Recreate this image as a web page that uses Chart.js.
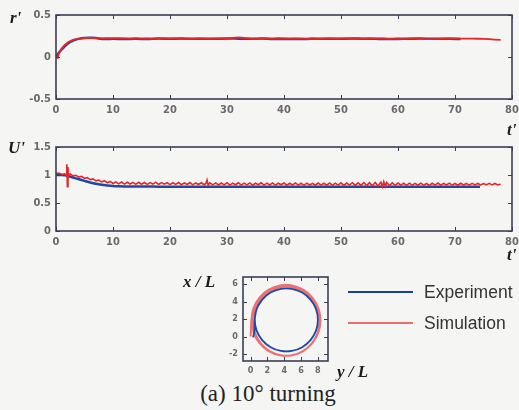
<!DOCTYPE html>
<html>
<head>
<meta charset="utf-8">
<script src="https://cdn.jsdelivr.net/npm/chart.js@4"></script>
<style>
  body { margin: 0; background: #f5f5f3; width: 519px; height: 410px; overflow: hidden; position: relative; }
  canvas { position: absolute; }
  .lab { position: absolute; font: italic bold 17px 'Liberation Serif', serif; color: #1a1a1a; line-height: 1; white-space: nowrap; }
  .leg { position: absolute; font: 17.5px 'Liberation Sans', Arial, sans-serif; color: #333; line-height: 1; }
  .swatch { position: absolute; width: 65px; height: 2px; }
  #caption { position: absolute; left: 0; width: 536px; top: 381px; text-align: center; font: 23px 'Liberation Serif', serif; color: #222; }
</style>
</head>
<body>
<canvas id="r-chart" style="left:0;top:0" width="519" height="125"></canvas>
<canvas id="u-chart" style="left:0;top:130px" width="519" height="130"></canvas>
<canvas id="path-chart" style="left:200px;top:265px" width="140" height="112"></canvas>

<div class="lab" style="left:10px;top:9px">r'</div>
<div class="lab" style="left:507px;top:121px">t'</div>
<div class="lab" style="left:8px;top:139px">U'</div>
<div class="lab" style="left:507px;top:246px">t'</div>
<div class="lab" style="left:183px;top:273px">x / L</div>
<div class="lab" style="left:337px;top:363px">y / L</div>

<div class="swatch" style="left:348px;top:291px;background:#1b3f9c"></div>
<div class="leg" style="left:424px;top:284px">Experiment</div>
<div class="swatch" style="left:348px;top:322px;background:#ee6b6b"></div>
<div class="leg" style="left:424px;top:315px">Simulation</div>
<div id="caption">(a) 10° turning</div>

<script>
// tick values
const tTicks = [0, 10, 20, 30, 40, 50, 60, 70, 80];
const rTicks = [-0.5, 0, 0.5];
const uTicks = [0, 0.5, 1, 1.5];
const yLTicks = [0, 2, 4, 6, 8];
const xLTicks = [-2, 0, 2, 4, 6];

// yaw rate r' vs t'
const rExperiment = [[0,0],[0.5,0.05],[1,0.09],[1.5,0.125],[2,0.155],[2.5,0.178],[3,0.195],[3.5,0.207],[4,0.216],
  [5,0.225],[6,0.228],[7,0.226],[8,0.215],[9,0.214],[10,0.216],[12,0.214],[14,0.217],[16,0.213],[18,0.219],
  [20,0.217],[22,0.219],[24,0.216],[26,0.218],[28,0.217],[30,0.22],[32,0.218],[34,0.216],[36,0.219],
  [38,0.214],[40,0.215],[42,0.213],[44,0.215],[46,0.218],[48,0.218],[50,0.217],[52,0.219],[54,0.218],
  [56,0.216],[58,0.214],[60,0.215],[62,0.218],[64,0.22],[66,0.217],[68,0.218],[70,0.215],[71,0.215]];
const rSimulation = [[0,0.01],[0.3,-0.01],[0.5,0.04],[1,0.1],[1.5,0.14],[2,0.17],[2.5,0.19],[3,0.203],[3.5,0.212],
  [4,0.22],[5,0.226],[6,0.227],[7,0.225],[8,0.222],[9,0.224],[10,0.221],[11,0.225],[12,0.222],[13,0.219],
  [14,0.221],[15,0.218],[16,0.222],[17,0.216],[18,0.219],[19,0.221],[20,0.218],[21,0.22],[22,0.217],
  [23,0.219],[24,0.216],[25,0.22],[26,0.218],[27,0.215],[28,0.219],[29,0.222],[30,0.219],[31,0.226],
  [32,0.234],[33,0.226],[34,0.218],[35,0.214],[36,0.219],[37,0.221],[38,0.218],[39,0.223],[40,0.22],
  [41,0.218],[42,0.222],[43,0.219],[44,0.216],[45,0.22],[46,0.215],[47,0.218],[48,0.221],[49,0.217],
  [50,0.219],[51,0.222],[52,0.218],[53,0.22],[54,0.217],[55,0.221],[56,0.219],[57,0.222],[58,0.218],
  [59,0.216],[60,0.22],[61,0.214],[62,0.218],[63,0.222],[64,0.219],[65,0.213],[66,0.212],[67,0.216],
  [68,0.219],[69,0.222],[70,0.22],[71,0.218],[72,0.219],[73,0.218],[74,0.217],[75,0.215],[76,0.212],
  [77,0.207],[78,0.203]];

// speed U' vs t'
const uExperiment = [[0,1.03],[0.3,1.0],[1,1.0],[2,0.985],[3,0.955],[4,0.925],[5,0.895],[6,0.866],[7,0.842],
  [8,0.824],[9,0.812],[10,0.803],[11,0.798],[12,0.795],[14,0.793],[16,0.794],[18,0.792],[20,0.791],
  [24,0.792],[28,0.79],[32,0.791],[36,0.79],[40,0.791],[44,0.79],[48,0.791],[52,0.79],[56,0.79],
  [60,0.791],[64,0.79],[68,0.79],[72,0.79],[74.4,0.79]];
const uSimulation = [[0,1.02],[0.5,1.035],[1,1.01],[1.5,1.02],[1.8,1.0],[1.9,1.19],[2,0.79],[2.1,1.14],[2.2,0.97],
  [2.5,1.02],[3,0.985],[3.5,0.995],[4,0.962],[4.5,0.975],[5,0.94],[5.5,0.952],[6,0.918],[6.5,0.93],[7,0.895],
  [7.5,0.91],[8,0.876],[8.5,0.898],[9,0.862],[9.5,0.885],[10,0.848],[10.5,0.878],[11,0.842],[11.5,0.874],
  [12,0.838],[12.5,0.87],[13,0.84],[13.5,0.868],[14,0.834],[14.5,0.87],[15,0.836],[15.5,0.866],[16,0.832],
  [16.5,0.864],[17,0.838],[17.5,0.872],[18,0.83],[18.5,0.864],[19,0.836],[19.5,0.862],[20,0.828],[20.5,0.862],
  [21,0.832],[21.5,0.866],[22,0.826],[22.5,0.86],[23,0.83],[23.5,0.865],[24,0.824],[24.5,0.858],[25,0.83],
  [25.5,0.862],[26,0.826],[26.3,0.85],[26.5,0.91],[26.7,0.82],[27,0.86],[27.5,0.825],[28,0.858],[28.5,0.822],
  [29,0.856],[29.5,0.824],[30,0.86],[30.5,0.82],[31,0.855],[31.5,0.826],[32,0.862],[32.5,0.82],[33,0.854],
  [33.5,0.824],[34,0.858],[34.5,0.818],[35,0.852],[35.5,0.826],[36,0.86],[36.5,0.82],[37,0.855],[37.5,0.822],
  [38,0.858],[38.5,0.82],[39,0.852],[39.5,0.825],[40,0.856],[40.5,0.818],[41,0.853],[41.5,0.822],[42,0.858],
  [42.5,0.82],[43,0.852],[43.5,0.816],[44,0.855],[44.5,0.822],[45,0.85],[45.5,0.818],[46,0.856],[46.5,0.82],
  [47,0.853],[47.5,0.818],[48,0.858],[48.5,0.816],[49,0.854],[49.5,0.82],[50,0.86],[50.5,0.815],[51,0.856],
  [51.5,0.82],[52,0.862],[52.5,0.814],[53,0.86],[53.5,0.816],[54,0.865],[54.5,0.81],[55,0.862],[55.5,0.808],
  [56,0.868],[56.5,0.805],[57,0.872],[57.3,0.79],[57.5,0.88],[57.8,0.795],[58,0.868],[58.5,0.81],[59,0.86],
  [59.5,0.816],[60,0.856],[60.5,0.82],[61,0.852],[61.5,0.816],[62,0.855],[62.5,0.82],[63,0.85],[63.5,0.818],
  [64,0.854],[64.5,0.82],[65,0.848],[65.5,0.816],[66,0.852],[66.5,0.82],[67,0.856],[67.5,0.818],[68,0.85],
  [68.5,0.822],[69,0.854],[69.5,0.82],[70,0.848],[70.5,0.818],[71,0.852],[71.5,0.822],[72,0.848],[72.5,0.82],
  [73,0.85],[73.5,0.823],[74,0.848],[74.5,0.822],[75,0.846],[75.5,0.824],[76,0.85],[76.5,0.822],[77,0.848],
  [77.5,0.824],[78,0.836]];

// trajectory, [y/L, x/L]
const pathExperiment = [[0.3,-0.1],[0.45,0.6],[0.5,1.9],[0.72,3.13],[1.38,4.21],[2.38,5.02],[3.6,5.45],
  [4.9,5.45],[6.13,5.02],[7.12,4.21],[7.78,3.13],[8.0,1.9],[7.78,0.67],[7.12,-0.41],[6.13,-1.22],
  [4.9,-1.65],[3.6,-1.65],[2.38,-1.22],[1.38,-0.41],[0.72,0.67],[0.5,1.9],[0.72,3.13],[1.38,4.21]];
const pathSimulation = [[0.0,0.0],[0.05,0.8],[0.1,1.85],[0.35,3.24],[1.06,4.45],[2.15,5.36],[3.49,5.84],
  [4.91,5.84],[6.25,5.36],[7.34,4.45],[8.05,3.24],[8.3,1.85],[8.05,0.46],[7.34,-0.75],[6.25,-1.66],
  [4.91,-2.14],[3.49,-2.14],[2.15,-1.66],[1.06,-0.75],[0.35,0.46],[0.3,1.75],[0.54,3.1],[1.22,4.29],
  [2.28,5.17],[3.56,5.64],[4.94,5.64],[6.23,5.17],[7.28,4.29],[7.96,3.1],[8.2,1.75],[7.96,0.4],
  [7.28,-0.79],[6.23,-1.67],[4.94,-2.14],[3.56,-2.14],[2.28,-1.67],[1.22,-0.79],[0.54,0.4],[0.3,1.75]];

const blue = '#1f48a6';
const red = '#e5262b';
const pts = arr => arr.map(([x, y]) => ({ x, y }));

const frame = {
  id: 'frame',
  afterDraw(chart) {
    const { ctx, chartArea: a, scales } = chart;
    const len = 4;
    ctx.save();
    ctx.strokeStyle = '#3b3e55';
    ctx.lineWidth = 1;
    scales.x.ticks.forEach(t => {
      const px = Math.round(scales.x.getPixelForValue(t.value)) + 0.5;
      ctx.beginPath();
      ctx.moveTo(px, a.bottom); ctx.lineTo(px, a.bottom - len);
      ctx.moveTo(px, a.top); ctx.lineTo(px, a.top + len);
      ctx.stroke();
    });
    scales.y.ticks.forEach(t => {
      const py = Math.round(scales.y.getPixelForValue(t.value)) + 0.5;
      ctx.beginPath();
      ctx.moveTo(a.left, py); ctx.lineTo(a.left + len, py);
      ctx.moveTo(a.right, py); ctx.lineTo(a.right - len, py);
      ctx.stroke();
    });
    ctx.lineWidth = 1.6;
    ctx.strokeRect(a.left, a.top, a.right - a.left, a.bottom - a.top);
    ctx.restore();
  }
};

function axis(min, max, ticks, opts) {
  return {
    type: 'linear', min, max,
    afterBuildTicks: s => { s.ticks = ticks.map(v => ({ value: v })); },
    afterFit: s => {
      if (opts.w) s.width = opts.w;
      if (opts.h) s.height = opts.h;
      s.paddingLeft = s.paddingRight = s.paddingTop = s.paddingBottom = 0;
    },
    grid: { display: false, drawTicks: false },
    border: { display: false },
    ticks: {
      padding: opts.pad,
      color: '#6a6a6a',
      callback: v => String(v),
      font: { family: "'Liberation Sans Narrow', 'DejaVu Sans Condensed', sans-serif", size: opts.size, weight: 'bold' }
    }
  };
}

function timeChart(id, sets, yMin, yMax, yTicks, pad) {
  return new Chart(document.getElementById(id), {
    type: 'line',
    data: { datasets: sets },
    options: {
      responsive: false, animation: false,
      layout: { padding: pad.layout },
      plugins: { legend: { display: false }, tooltip: { enabled: false } },
      elements: { point: { radius: 0 } },
      scales: {
        x: axis(0, 80, tTicks, { h: pad.xh, pad: 5, size: 11 }),
        y: axis(yMin, yMax, yTicks, { w: 56, pad: 5, size: 11 })
      }
    },
    plugins: [frame]
  });
}

// first dataset is drawn on top
timeChart('r-chart', [
  { data: pts(rSimulation), borderColor: red, borderWidth: 1.8, tension: 0 },
  { data: pts(rExperiment), borderColor: blue, borderWidth: 2.5, tension: 0.3 }
], -0.5, 0.5, rTicks, { layout: { top: 15, right: 7, left: 0, bottom: 0 }, xh: 26 });

timeChart('u-chart', [
  { data: pts(uSimulation), borderColor: red, borderWidth: 1.6, tension: 0 },
  { data: pts(uExperiment), borderColor: blue, borderWidth: 2.5, tension: 0.3 }
], 0, 1.5, uTicks, { layout: { top: 17, right: 7, left: 0, bottom: 0 }, xh: 29 });

new Chart(document.getElementById('path-chart'), {
  type: 'line',
  data: {
    datasets: [
      { data: pts(pathExperiment), borderColor: blue, borderWidth: 1.8, tension: 0.4 },
      { data: pts(pathSimulation), borderColor: 'rgba(232,70,70,0.75)', borderWidth: 2, tension: 0.4 }
    ]
  },
  options: {
    responsive: false, animation: false,
    layout: { padding: { top: 12, right: 12, left: 0, bottom: 0 } },
    plugins: { legend: { display: false }, tooltip: { enabled: false } },
    elements: { point: { radius: 0 } },
    scales: {
      x: axis(-0.9, 9.2, yLTicks, { h: 16, pad: 4, size: 9 }),
      y: axis(-2.8, 6.8, xLTicks, { w: 43, pad: 5, size: 9 })
    }
  },
  plugins: [frame]
});
</script>
</body>
</html>
